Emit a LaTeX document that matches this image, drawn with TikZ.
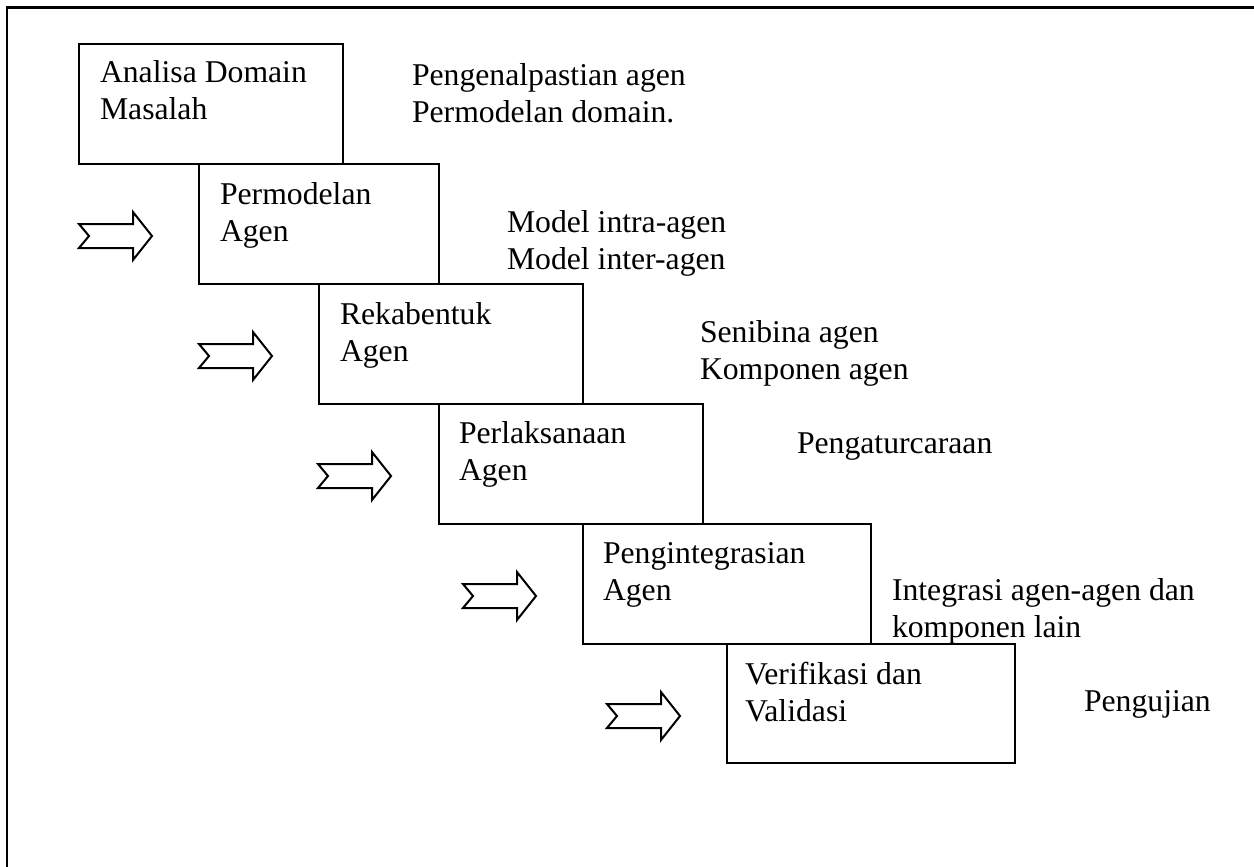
\documentclass[tikz,border=0pt]{standalone}
\usepackage{fontspec}
\setmainfont{Liberation Serif}
\begin{document}
\begin{tikzpicture}[x=1pt,y=-1pt,
  stage/.style={draw, line width=2pt, rectangle, anchor=north west, inner sep=0pt, outer sep=0pt},
  lbl/.style={anchor=base west, inner sep=0pt, outer sep=0pt, align=left, font=\fontsize{31.7}{37}\selectfont},
  pics/fatarrow/.style={code={\draw[line width=2pt, line join=miter] (0,-12) -- (54,-12) -- (54,-24) -- (73,0) -- (54,24) -- (54,12) -- (0,12) -- (10,0) -- cycle;}}]
\useasboundingbox (0,0) rectangle (1254,867);
% outer frame (left and top edges)
\draw[line width=2.4pt] (7,867) -- (7,7.5) -- (1254,7.5);
% stage boxes
\node[stage, minimum width=264pt, minimum height=120pt] (b1) at (79,44) {};
\node[stage, minimum width=240pt, minimum height=120pt] (b2) at (199,164) {};
\node[stage, minimum width=264pt, minimum height=120pt] (b3) at (319,284) {};
\node[stage, minimum width=264pt, minimum height=120pt] (b4) at (439,404) {};
\node[stage, minimum width=288pt, minimum height=120pt] (b5) at (583,524) {};
\node[stage, minimum width=288pt, minimum height=119pt] (b6) at (727,644) {};
% box labels (anchor = baseline of last line)
\node[lbl] (t1) at (100,120) {Analisa Domain\\Masalah};
\node[lbl] (t2) at (220,241) {Permodelan\\Agen};
\node[lbl] (t3) at (340,361) {Rekabentuk\\Agen};
\node[lbl] (t4) at (459,480) {Perlaksanaan\\Agen};
\node[lbl] (t5) at (603,600) {Pengintegrasian\\Agen};
\node[lbl] (t6) at (745,721) {Verifikasi dan\\Validasi};
% side notes
\node[lbl] (n1) at (412,122) {Pengenalpastian agen\\Permodelan domain.};
\node[lbl] (n2) at (507,269) {Model intra-agen\\Model inter-agen};
\node[lbl] (n3) at (700,379) {Senibina agen\\Komponen agen};
\node[lbl] (n4) at (797,453) {Pengaturcaraan};
\node[lbl] (n5) at (892,637) {Integrasi agen-agen dan\\komponen lain};
\node[lbl] (n6) at (1084,711) {Pengujian};
% arrows
\pic at (79,236) {fatarrow};
\pic at (199,356) {fatarrow};
\pic at (318,476) {fatarrow};
\pic at (463,596) {fatarrow};
\pic at (607,716) {fatarrow};
\end{tikzpicture}
\end{document}
